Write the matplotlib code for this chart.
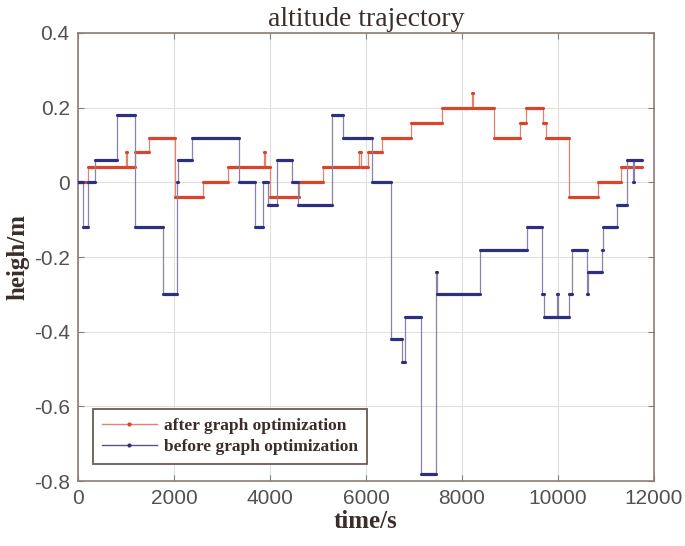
import matplotlib
matplotlib.use("Agg")
import matplotlib.pyplot as plt
from matplotlib.lines import Line2D

# step data: time edges (s) and height level (m) per step
after_edges = [0, 215, 1000, 1030, 1187, 1479, 2021, 2611, 3118, 3870, 3900,
               4000, 4604, 5111, 5860, 5890, 6040, 6326, 6931, 7576, 8200,
               8230, 8667, 9208, 9326, 9694, 9740, 10229, 10826, 11306, 11743]
after_levels = [0, 0.04, 0.08, 0.04, 0.08, 0.12, -0.04, 0, 0.04, 0.08,
                0.04, -0.04, 0, 0.04, 0.08, 0.04, 0.08, 0.12, 0.16, 0.2,
                0.24, 0.2, 0.12, 0.16, 0.2, 0.16, 0.12, -0.04, 0, 0.04]

before_edges = [0, 111, 215, 354, 806, 1187, 1778, 2056, 2090, 2368, 3354,
                3688, 3861, 3965, 4139, 4451, 4590, 5285, 5528, 6132, 6514,
                6743, 6806, 7139, 7451, 7470, 8375, 9360, 9677, 9700, 9980,
                10005, 10236, 10285, 10611, 10630, 10910, 10930, 11236, 11431,
                11560, 11580, 11743]
before_levels = [0, -0.12, 0, 0.06, 0.18, -0.12, -0.3, 0, 0.06, 0.12, 0,
                 -0.12, 0, -0.06, 0.06, 0, -0.06, 0.18, 0.12, 0, -0.42,
                 -0.48, -0.36, -0.78, -0.24, -0.3, -0.18, -0.12, -0.3, -0.36,
                 -0.3, -0.36, -0.3, -0.18, -0.3, -0.24, -0.18, -0.12, -0.06,
                 0.06, 0, 0.06]

x_ticks = [0, 2000, 4000, 6000, 8000, 10000, 12000]
y_ticks = [-0.8, -0.6, -0.4, -0.2, 0, 0.2, 0.4]

RED = "#d8452a"
RED_THIN = "#e2846c"
BLUE = "#2e2f80"
BLUE_THIN = "#8884a8"
FRAME = "#8b7d78"

fig = plt.figure(figsize=(6.85, 5.46), dpi=100)
ax = fig.add_axes([78 / 685, 1 - 481 / 546, (654 - 78) / 685, (481 - 33) / 546])

# thin connecting stairs, thick horizontal segments (dense samples in original)
ax.stairs(after_levels, after_edges, baseline=None, color=RED_THIN, lw=0.9, zorder=3)
ax.hlines(after_levels, after_edges[:-1], after_edges[1:], color=RED, lw=2.3,
          capstyle="round", zorder=4)
ax.stairs(before_levels, before_edges, baseline=None, color=BLUE_THIN, lw=0.9, zorder=5)
ax.hlines(before_levels, before_edges[:-1], before_edges[1:], color=BLUE, lw=2.3,
          capstyle="round", zorder=6)

ax.set_xlim(0, 12000)
ax.set_ylim(-0.8, 0.4)
ax.set_xticks(x_ticks)
ax.set_yticks(y_ticks)
ax.set_xticklabels([str(t) for t in x_ticks])
ax.set_yticklabels(["0" if t == 0 else f"{t:.1f}" for t in y_ticks])

ax.grid(True, color="#e6dedb", lw=0.8, zorder=0)
for s in ax.spines.values():
    s.set_color(FRAME)
    s.set_linewidth(1.2)
ax.tick_params(direction="in", top=True, right=True, length=4, width=0.8,
               color=FRAME, labelcolor="#555050", labelsize=15, pad=6)
for lab in ax.get_xticklabels() + ax.get_yticklabels():
    lab.set_family("Liberation Sans")

ax.set_title("altitude trajectory", family="Liberation Serif", fontsize=20,
             color="#3b2d2a", pad=5)
ax.set_xlabel("time/s", family="Liberation Serif", fontsize=18, fontweight="bold",
              color="#3b2d2a", labelpad=1)
ax.set_ylabel("heigh/m", family="Liberation Serif", fontsize=18, fontweight="bold",
              color="#3b2d2a", labelpad=3)

handles = [
    Line2D([0], [0], color=RED_THIN, lw=1.0, marker=".", markersize=4,
           markerfacecolor=RED, markeredgecolor=RED, label="after graph optimization"),
    Line2D([0], [0], color="#5a5680", lw=1.0, marker=".", markersize=4,
           markerfacecolor=BLUE, markeredgecolor=BLUE, label="before graph optimization"),
]
leg = ax.legend(handles=handles, loc="lower left", bbox_to_anchor=(0.026, 0.038),
                borderaxespad=0, fancybox=False, framealpha=1, numpoints=1,
                handlelength=3.2, handletextpad=0.4, labelspacing=0.3,
                borderpad=0.5, prop={"family": "Liberation Serif", "size": 12.5,
                                     "weight": "bold"})
leg.get_frame().set_edgecolor("#6b5a55")
leg.get_frame().set_linewidth(1.3)
for t in leg.get_texts():
    t.set_color("#3b2d2a")

plt.savefig("out.png", dpi=100)
